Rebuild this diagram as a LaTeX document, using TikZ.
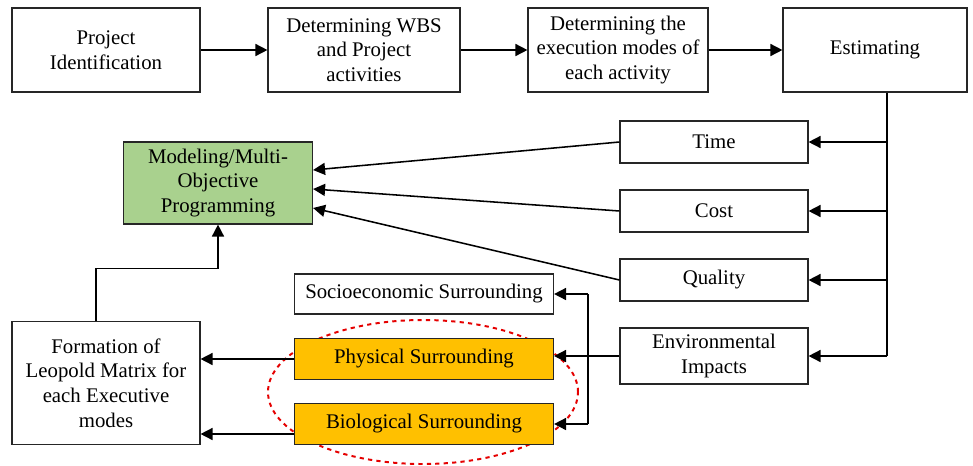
\documentclass[tikz,border=0pt]{standalone}
\usepackage{fontspec}
\setmainfont{Liberation Serif}
\newfontfamily\boxfont{Liberation Serif}
\usepackage{tikz}
\usetikzlibrary{arrows.meta}

\begin{document}
\begin{tikzpicture}[
	box/.style={draw=black!85, line width=0.8pt, align=center, inner sep=2pt,
		font=\boxfont\fontsize{14.8}{17.5}\selectfont},
	arr/.style={-{Triangle[length=3mm,width=3mm]}, line width=1.1pt},
	link/.style={line width=1.1pt}]
	\useasboundingbox (0,0) rectangle (24.325,-11.625);
	% top row
	\node[box, minimum width=4.7cm, minimum height=2.1cm] (pi) at (2.65,-1.25) {Project\\Identification};
	\node[box, minimum width=4.8cm, minimum height=2.1cm] (wbs) at (9.1,-1.25) {Determining WBS\\and Project\\activities};
	\node[box, minimum width=4.5cm, minimum height=2.1cm] (modes) at (15.45,-1.25) {Determining the\\execution modes of\\each activity};
	\node[box, minimum width=4.6cm, minimum height=2.1cm] (est) at (21.875,-1.25) {Estimating};
	% estimated items
	\node[box, minimum width=4.7cm, minimum height=1.05cm] (time) at (17.85,-3.55) {Time};
	\node[box, minimum width=4.7cm, minimum height=1.05cm] (cost) at (17.85,-5.275) {Cost};
	\node[box, minimum width=4.7cm, minimum height=1.05cm] (qual) at (17.85,-7.0) {Quality};
	\node[box, minimum width=4.7cm, minimum height=1.4cm] (env) at (17.85,-8.9) {Environmental\\Impacts};
	% model
	\node[box, fill={rgb,255:red,169;green,209;blue,142}, minimum width=4.725cm, minimum height=2.05cm] (model) at (5.45,-4.575) {Modeling/Multi-\\Objective\\Programming};
	% surroundings
	\draw[red!90!black, line width=1.4pt, dashed] (10.575,-9.8) ellipse [x radius=3.875, y radius=1.8];
	\node[box, minimum width=6.475cm, minimum height=1.0cm] (socio) at (10.6,-7.35) {Socioeconomic Surrounding};
	\node[box, fill={rgb,255:red,255;green,192;blue,0}, minimum width=6.475cm, minimum height=1.025cm] (phys) at (10.6,-8.975) {Physical Surrounding};
	\node[box, fill={rgb,255:red,255;green,192;blue,0}, minimum width=6.475cm, minimum height=1.025cm] (bio) at (10.6,-10.6) {Biological Surrounding};
	\node[box, minimum width=4.7cm, minimum height=3.075cm] (leo) at (2.65,-9.575) {Formation of\\Leopold Matrix for\\each Executive\\modes};
	\coordinate (ebus) at (22.175,0);
	\coordinate (sbus) at (14.7,0);

	\draw[arr] (pi) -- (wbs);
	\draw[arr] (wbs) -- (modes);
	\draw[arr] (modes) -- (est);
	\draw[link] (est.south -| ebus) -- (env.east -| ebus);
	\foreach \n in {time,cost,qual,env}
		\draw[arr] (\n.east -| ebus) -- (\n.east);
	\draw[arr] (time.west) -- ([yshift=0.325cm]model.east);
	\draw[arr] (cost.west) -- ([yshift=-0.15cm]model.east);
	\draw[arr] (qual.west) -- ([yshift=-0.625cm]model.east);
	\draw[arr] (env.west) -- (env.west -| phys.east);
	\draw[link] (socio.east -| sbus) -- (bio.east -| sbus);
	\draw[arr] (socio.east -| sbus) -- (socio.east);
	\draw[arr] (bio.east -| sbus) -- (bio.east);
	\draw[arr] (phys.west) -- (phys.west -| leo.east);
	\draw[arr] ([yshift=-0.25cm]bio.west) -- ([yshift=-0.25cm]bio.west -| leo.east);
	\draw[arr] ([xshift=-0.25cm]leo.north) |- ([yshift=-1.1cm]model.south) -- (model.south);
\end{tikzpicture}
\end{document}
